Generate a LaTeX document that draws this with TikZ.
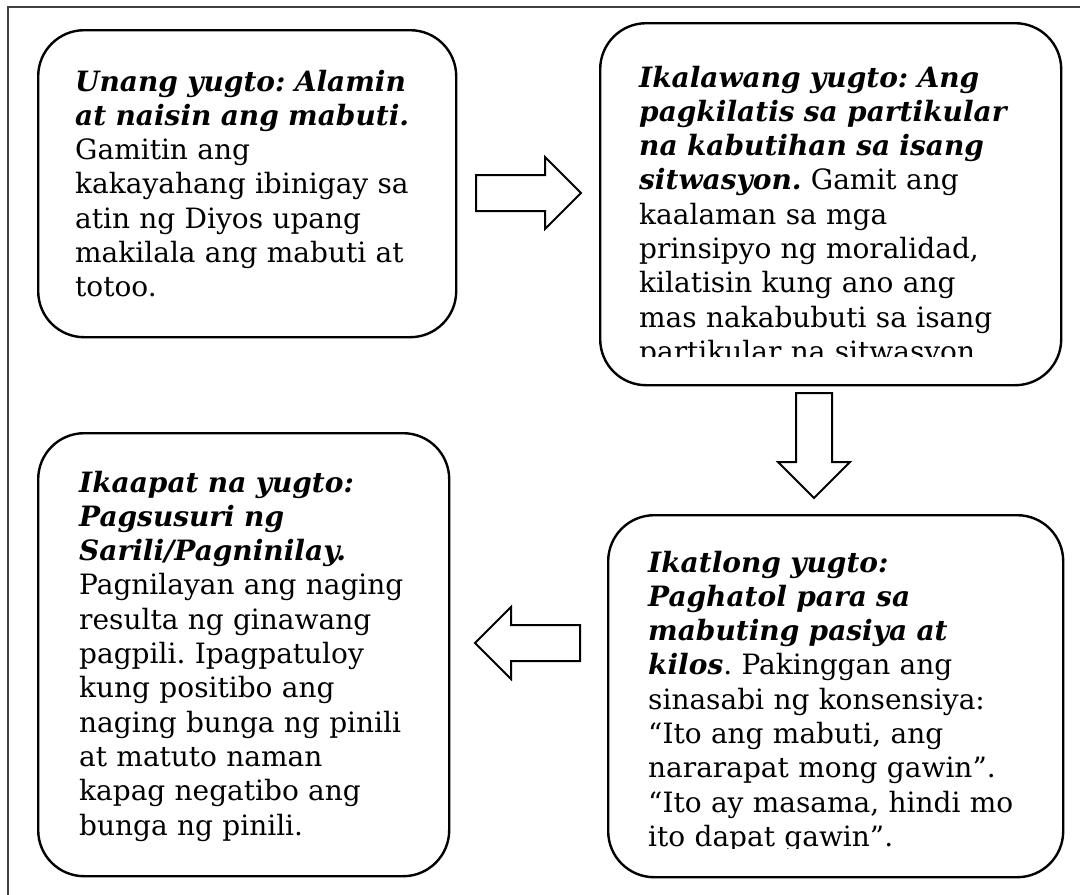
\documentclass[tikz,border=0pt]{standalone}
\usepackage{fontspec}
\setmainfont{DejaVu Serif}
\usetikzlibrary{shapes.arrows, positioning}
\frenchspacing

\begin{document}
\begin{tikzpicture}[
    x=1pt, y=-1pt,
    stage/.style={draw, rounded corners=46pt, line width=2.4pt,
                  inner sep=0pt, anchor=north west},
    stagetext/.style={anchor=base west, align=left, text width=430pt,
                      inner sep=0pt, font=\fontsize{28}{34.3}\selectfont},
    blockarrow/.style={single arrow, draw, line width=2pt, inner sep=17pt,
                       minimum height=105pt,
                       single arrow head extend=18pt, anchor=tail},
  ]
    \useasboundingbox (0,0) rectangle (1080,895);

    % Frame
    \draw[black!75, line width=1.3pt] (8,895) -- (8,7) -- (1080,7);

    % Stage boxes
    \node[stage, minimum width=418pt, minimum height=307pt] (unang) at (37,29) {};
    \node[stage, minimum width=461pt, minimum height=362pt] (ikalawa) at (599,22) {};
    \node[stage, minimum width=455pt, minimum height=362pt] (ikatlo) at (607,514) {};
    \node[stage, minimum width=411pt, minimum height=443pt] (ikaapat) at (37,432) {};

    % Texts
    \node[stagetext] (unangtxt) at (75,91) {%
      \textbf{\textit{Unang yugto: Alamin}}\\
      \textbf{\textit{at naisin ang mabuti.}}\\
      Gamitin ang\\
      kakayahang ibinigay sa\\
      atin ng Diyos upang\\
      makilala ang mabuti at\\
      totoo.};

    \begin{scope}
      \clip (599,22) rectangle (1060,356);
      \node[stagetext] (ikalawatxt) at (639,87) {%
        \textbf{\textit{Ikalawang yugto: Ang}}\\
        \textbf{\textit{pagkilatis sa partikular}}\\
        \textbf{\textit{na kabutihan sa isang}}\\
        \textbf{\textit{sitwasyon.}} Gamit ang\\
        kaalaman sa mga\\
        prinsipyo ng moralidad,\\
        kilatisin kung ano ang\\
        mas nakabubuti sa isang\\
        partikular na sitwasyon.};
    \end{scope}

    \begin{scope}
      \clip (607,514) rectangle (1062,848);
      \node[stagetext] (ikatlotxt) at (648,572) {%
        \textbf{\textit{Ikatlong yugto:}}\\
        \textbf{\textit{Paghatol para sa}}\\
        \textbf{\textit{mabuting pasiya at}}\\
        \textbf{\textit{kilos}}. Pakinggan ang\\
        sinasabi ng konsensiya:\\
        “Ito ang mabuti, ang\\
        nararapat mong gawin”.\\
        “Ito ay masama, hindi mo\\
        ito dapat gawin”.};
    \end{scope}

    \node[stagetext] (ikaapattxt) at (79,492) {%
      \textbf{\textit{Ikaapat na yugto:}}\\
      \textbf{\textit{Pagsusuri ng}}\\
      \textbf{\textit{Sarili/Pagninilay.}}\\
      Pagnilayan ang naging\\
      resulta ng ginawang\\
      pagpili. Ipagpatuloy\\
      kung positibo ang\\
      naging bunga ng pinili\\
      at matuto naman\\
      kapag negatibo ang\\
      bunga ng pinili.};

    % Block arrows
    \node[blockarrow] (arrowa) at (475,193) {};
    \node[blockarrow, shape border rotate=270] (arrowb) at (814,392) {};
    \node[blockarrow, shape border rotate=180] (arrowc) at (581,643) {};
  \end{tikzpicture}
\end{document}
